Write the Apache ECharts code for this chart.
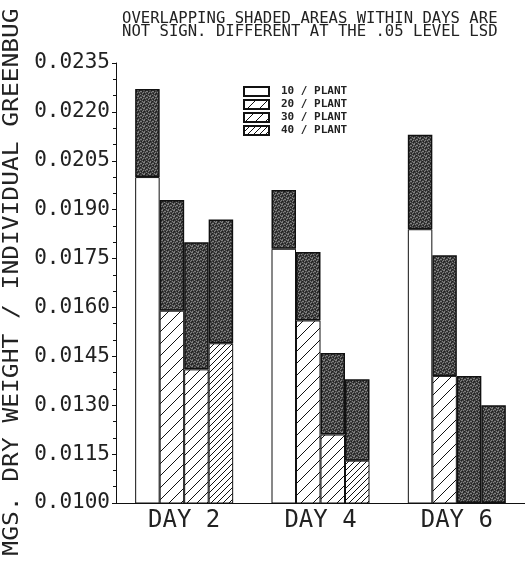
<!DOCTYPE html>
<html>
<head>
<meta charset="utf-8">
<script src="https://cdn.jsdelivr.net/npm/echarts@6/dist/echarts.min.js"></script>
<style>html,body{margin:0;padding:0;background:#fff}#c{width:525px;height:561px}</style>
</head>
<body>
<div id="c"></div>
<script>
// ---- data ----
const days = ['DAY 2', 'DAY 4', 'DAY 6'];
const densities = ['10 / PLANT', '20 / PLANT', '30 / PLANT', '40 / PLANT'];
// lower edge of shaded LSD area (top of white/hatched bar), per day
const low10 = [0.0200, 0.0178, 0.0184];
const low20 = [0.0159, 0.0156, 0.0139];
const low30 = [0.0141, 0.0121, 0.0100];
const low40 = [0.0149, 0.0113, 0.0100];
// upper edge of shaded LSD area, per day
const high10 = [0.0227, 0.0196, 0.0213];
const high20 = [0.0193, 0.0177, 0.0176];
const high30 = [0.0180, 0.0146, 0.0139];
const high40 = [0.0187, 0.0138, 0.0130];
const yTicks = ['0.0100','0.0115','0.0130','0.0145','0.0160','0.0175','0.0190','0.0205','0.0220','0.0235'];
const titleLines = ['OVERLAPPING SHADED AREAS WITHIN DAYS ARE', 'NOT SIGN. DIFFERENT AT THE .05 LEVEL LSD'];
const yName = 'MGS. DRY WEIGHT / INDIVIDUAL GREENBUG';

// ---- patterns ----
function hatch(p) {
  const c = document.createElement('canvas'); c.width = p; c.height = p;
  const g = c.getContext('2d');
  g.fillStyle = '#fff'; g.fillRect(0, 0, p, p);
  g.strokeStyle = '#111'; g.lineWidth = 1;
  g.beginPath();
  g.moveTo(0, p); g.lineTo(p, 0);
  g.moveTo(-1, 1); g.lineTo(1, -1);
  g.moveTo(p - 1, p + 1); g.lineTo(p + 1, p - 1);
  g.stroke();
  return { image: c, repeat: 'repeat' };
}
function stipple() {
  const n = 6;
  const c = document.createElement('canvas'); c.width = n; c.height = n;
  const g = c.getContext('2d');
  g.fillStyle = '#404040'; g.fillRect(0, 0, n, n);
  const light = [[0,0],[3,1],[1,2],[5,2],[2,4],[4,3],[0,5],[4,5],[5,0],[2,1]];
  g.fillStyle = '#808080';
  light.forEach(p => g.fillRect(p[0], p[1], 1, 1));
  const dark = [[1,0],[4,1],[3,3],[0,3],[5,4],[2,5]];
  g.fillStyle = '#1e1e1e';
  dark.forEach(p => g.fillRect(p[0], p[1], 1, 1));
  return { image: c, repeat: 'repeat' };
}
const fills = ['#ffffff', hatch(12), hatch(10), hatch(6)];
const shade = stipple();

const lows = [low10, low20, low30, low40];
const highs = [high10, high20, high30, high40];
const FONT = 'DejaVu Sans Mono';

const series = [];
densities.forEach((name, i) => {
  series.push({
    name: name, type: 'bar', stack: 's' + i, barWidth: 24.5, barGap: 0,
    data: lows[i],
    itemStyle: { color: fills[i], borderColor: '#111', borderWidth: 1 },
    emphasis: { disabled: true }
  });
  series.push({
    name: name + ' LSD', type: 'bar', stack: 's' + i, barWidth: 24.5, barGap: 0,
    data: highs[i].map((h, k) => h - lows[i][k]),
    itemStyle: { color: shade, borderColor: '#111', borderWidth: 1.5 },
    emphasis: { disabled: true }
  });
});

const chart = echarts.init(document.getElementById('c'), null, { renderer: 'canvas' });
chart.setOption({
  animation: false,
  backgroundColor: '#fff',
  title: {
    text: titleLines.join('\n'), left: 117, top: 7,
    textStyle: { fontFamily: FONT, fontSize: 15.6, fontWeight: 'normal', lineHeight: 13, color: '#222' }
  },
  legend: {
    data: densities, orient: 'vertical', left: 238, top: 81,
    itemWidth: 25, itemHeight: 9, itemGap: 2, icon: 'rect',
    textStyle: { fontFamily: FONT, fontSize: 11, lineHeight: 10, fontWeight: 'bold', color: '#222', padding: [0, 0, 0, 7] },
    selectedMode: false
  },
  graphic: [{
    type: 'text', x: 12.5, y: 282, rotation: Math.PI / 2, scaleX: 1.17, z: 10,
    style: { text: yName, font: '21px "DejaVu Sans Mono"', fill: '#222', align: 'center', verticalAlign: 'middle' }
  }],
  grid: { left: 116, right: 0, top: 63, bottom: 58, containLabel: false, outerBoundsMode: 'none' },
  xAxis: {
    type: 'category', data: days,
    axisLine: { lineStyle: { color: '#111', width: 1 } },
    axisTick: { show: false },
    axisLabel: { fontFamily: FONT, fontSize: 24, color: '#222', margin: 6 }
  },
  yAxis: {
    type: 'value', min: 0.0100, max: 0.0235, interval: 0.0015,
    axisLine: { show: true, lineStyle: { color: '#111', width: 1 } },
    axisTick: { show: true, length: 4, lineStyle: { color: '#111' } },
    minorTick: { show: true, splitNumber: 3, length: 3, lineStyle: { color: '#111' } },
    splitLine: { show: false },
    axisLabel: {
      fontFamily: FONT, fontSize: 21, color: '#222', margin: 6,
      formatter: v => { const s = v.toFixed(4); return yTicks.indexOf(s) >= 0 ? s : ''; }
    }
  },
  series: series
});
</script>
</body>
</html>
